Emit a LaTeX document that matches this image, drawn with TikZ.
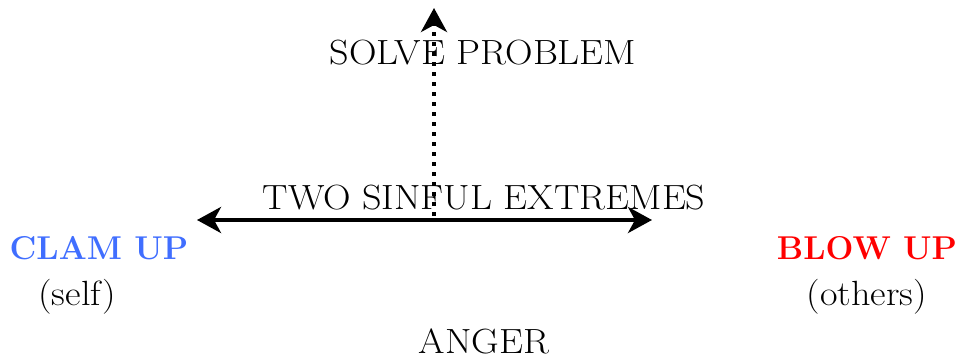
\documentclass[tikz,border=0pt]{standalone}
\usepackage{graphicx}
\usetikzlibrary{arrows.meta}
\definecolor{clamblue}{RGB}{64,110,255}
\definecolor{blowred}{RGB}{255,0,0}
\newcommand\widetxt[1]{\scalebox{1.09}[1]{#1}}
\begin{document}
\begin{tikzpicture}[x=1pt,y=-1pt,
  lbl/.style={inner sep=0pt,anchor=base,font=\fontsize{35}{40}\selectfont},
  boldlbl/.style={inner sep=0pt,anchor=base,font=\fontsize{33}{38}\selectfont\bfseries},
  tip/.style={-{Stealth[length=24pt,width=26pt,inset=7pt]}},
  bigline/.style={line width=4pt}]
\useasboundingbox (0,0) rectangle (957,358);
\node[lbl] (two) at (484,209) {\widetxt{TWO SINFUL EXTREMES}};
\node[lbl] (solve) at (483,65) {\widetxt{SOLVE PROBLEM}};
\node[boldlbl,text=clamblue] (clam) at (99,259) {CLAM UP};
\node[lbl] (self) at (77,305) {\widetxt{(self)}};
\node[boldlbl,text=blowred] (blow) at (867,259) {BLOW UP};
\node[lbl] (others) at (867,305) {\widetxt{(others)}};
\node[lbl] (anger) at (484,353) {\widetxt{ANGER}};
\coordinate (hl) at (197,220);
\coordinate (hr) at (652,220);
\coordinate (vb) at (434,216);
\coordinate (vt) at (434,8);
\draw[bigline,{Stealth[length=24pt,width=26pt,inset=7pt]}-{Stealth[length=24pt,width=26pt,inset=7pt]}] (hl) -- (hr);
\draw[bigline,dash pattern=on 4pt off 6pt,tip] (vb) -- (vt);
\end{tikzpicture}
\end{document}
